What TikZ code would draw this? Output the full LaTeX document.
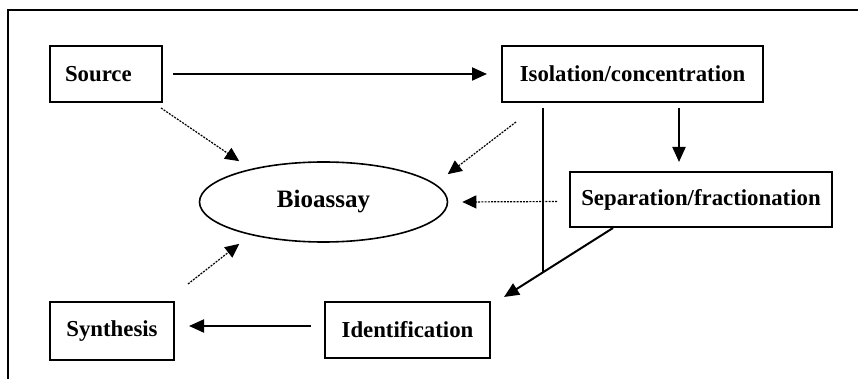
\documentclass[tikz,border=0pt]{standalone}
\usepackage{fontspec}
\setmainfont{Liberation Serif}
\usetikzlibrary{arrows.meta,shapes.geometric}

\begin{document}
\begin{tikzpicture}[x=0.5pt, y=-0.5pt,
    box/.style={draw, line width=1pt, rectangle, inner sep=2pt,
        font=\fontsize{11.4}{13}\selectfont\bfseries},
    flow/.style={line width=1pt, -{Triangle[length=7.5pt,width=6.5pt]}},
    assay/.style={line width=0.6pt, dash pattern=on 1pt off 0.6pt,
        -{Triangle[length=7pt,width=6.5pt]}}]
    \useasboundingbox (0,0) rectangle (858,379);
    \draw[line width=1pt] (8,379) -- (8,10) -- (858,10);

    \node[box, minimum height=28pt, inner xsep=7.5pt, text width=41pt, align=left] (src) at (106,74) {Source};
    \node[box, minimum width=130.5pt, minimum height=28pt] (iso) at (632.5,74) {Isolation/concentration};
    \node[box, minimum width=131pt, minimum height=27.5pt] (sep) at (701,199.5) {Separation/fractionation};
    \node[box, minimum width=62pt, minimum height=29pt] (syn) at (112,331) {Synthesis};
    \node[box, minimum width=82.5pt, minimum height=28pt] (idn) at (407.5,330) {Identification};
    \node[draw, line width=0.8pt, ellipse, inner sep=0pt, minimum width=124pt, minimum height=40pt,
        font=\fontsize{12.5}{14}\selectfont\bfseries] (bio) at (323.5,202) {Bioassay};

    % main route
    \draw[flow, shorten <=5pt, shorten >=7pt] (src) -- (iso);
    \draw[flow] ([xshift=23.25pt,yshift=-2.5pt]iso.south) -- ([xshift=-11pt,yshift=4.5pt]sep.north);
    \draw[flow] ([xshift=-44pt]sep.south) -- ([xshift=6.5pt,yshift=2pt]idn.north east);
    \coordinate (jn) at (543,272.5);
    \draw[line width=1pt] ([xshift=-44.75pt,yshift=-2.5pt]iso.south) -- (jn);
    \draw[flow] ([xshift=-6.5pt,yshift=2pt]idn.west) -- ([xshift=7pt,yshift=2.5pt]syn.east);

    % links to the bioassay
    \draw[assay] ([xshift=-1pt,yshift=-2.5pt]src.south east) -- ([xshift=2pt,yshift=6pt]bio.north west);
    \draw[assay] ([xshift=7.5pt,yshift=-9.5pt]iso.south west) -- ([xshift=18pt,yshift=-0.5pt]bio.north east);
    \draw[assay] ([xshift=-6pt,yshift=-1pt]sep.west) -- ([xshift=7pt]bio.east);
    \draw[assay] ([xshift=6.5pt,yshift=8.5pt]syn.north east) -- ([xshift=2pt,yshift=-6.5pt]bio.south west);
\end{tikzpicture}
\end{document}
